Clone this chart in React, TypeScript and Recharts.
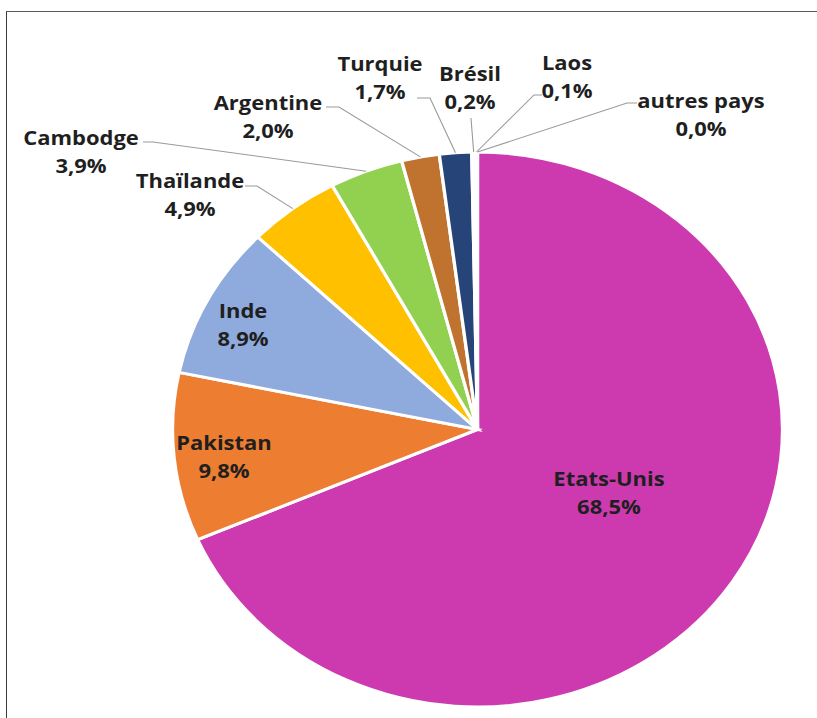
import { PieChart, Pie, Cell } from "recharts";

// the reference is horizontally stretched, so the whole chart is scaled in x
const SX = 305 / 277.5;
const RAD = Math.PI / 180;

const countries = [
  "Etats-Unis",
  "Pakistan",
  "Inde",
  "Thaïlande",
  "Cambodge",
  "Argentine",
  "Turquie",
  "Brésil",
  "Laos",
  "autres pays",
];
const shares = [68.5, 9.8, 8.9, 4.9, 3.9, 2.0, 1.7, 0.2, 0.1, 0.0];
const shareLabels = ["68,5%", "9,8%", "8,9%", "4,9%", "3,9%", "2,0%", "1,7%", "0,2%", "0,1%", "0,0%"];

const colors = [
  "#CD3AAF",
  "#ED7D31",
  "#8FAADC",
  "#FFC000",
  "#92D050",
  "#C0732F",
  "#264478",
  "#F7F7F7",
  "#F7F7F7",
  "#F7F7F7",
];

// label placement (reference pixels): text centre, first line y, optional leader start + elbow
const labelSpots: { x: number; y: number; line?: [number, number, number] }[] = [
  { x: 609, y: 478 },
  { x: 224, y: 442 },
  { x: 243, y: 310 },
  { x: 190, y: 180, line: [245, 186, 257] },
  { x: 81, y: 137, line: [143, 142, 153] },
  { x: 268, y: 102, line: [326, 107, 339] },
  { x: 380, y: 63, line: [417, 98, 430] },
  { x: 470, y: 73, line: [471, 118, 471] },
  { x: 567, y: 62, line: [542, 95, 534] },
  { x: 701, y: 100, line: [637, 103, 627] },
];

const data = countries.map((name, i) => ({ name, value: shares[i] }));

function renderLabel(props: any) {
  const { cx, cy, midAngle, outerRadius, index } = props;
  const spot = labelSpots[index];
  if (!spot) return null;
  const tx = spot.x / SX;
  let leader = null;
  if (spot.line) {
    const [lx, ly, ex] = spot.line;
    const px = cx + outerRadius * Math.cos(midAngle * RAD);
    const py = cy - outerRadius * Math.sin(midAngle * RAD);
    leader = (
      <polyline
        points={`${lx / SX},${ly} ${ex / SX},${ly} ${px},${py}`}
        fill="none"
        stroke="#9a9a9a"
        strokeWidth={1}
      />
    );
  }
  const textStyle = {
    textAnchor: "middle" as const,
    dominantBaseline: "central" as const,
    fill: "#1f1f1f",
    fontSize: 20,
    fontWeight: 700,
    fontFamily: "'Open Sans', sans-serif",
  };
  return (
    <g>
      {leader}
      <text x={tx} y={spot.y} {...textStyle}>
        {countries[index]}
      </text>
      <text x={tx} y={spot.y + 28} {...textStyle}>
        {shareLabels[index]}
      </text>
    </g>
  );
}

export default function App() {
  return (
    <div
      style={{
        position: "absolute",
        left: 0,
        top: 0,
        width: 817,
        height: 718,
        overflow: "hidden",
        background: "#fff",
      }}
    >
      <div
        style={{
          position: "absolute",
          left: 6,
          top: 11,
          width: 900,
          height: 800,
          borderTop: "1.5px solid #5a5a5a",
          borderLeft: "1.5px solid #3a3a3a",
        }}
      />
      <div
        style={{
          position: "absolute",
          left: 0,
          top: 0,
          width: 817 / SX,
          height: 718,
          transform: `scaleX(${SX})`,
          transformOrigin: "0 0",
        }}
      >
        <PieChart width={817 / SX} height={718} margin={{ top: 0, right: 0, bottom: 0, left: 0 }}>
          <Pie
            data={data}
            dataKey="value"
            nameKey="name"
            cx={477.5 / SX}
            cy={429.5}
            outerRadius={277.5}
            startAngle={90}
            endAngle={-270}
            stroke="#ffffff"
            strokeWidth={3}
            labelLine={false}
            label={renderLabel}
            isAnimationActive={false}
          >
            {data.map((d, i) => (
              <Cell key={d.name} fill={colors[i]} />
            ))}
          </Pie>
        </PieChart>
      </div>
    </div>
  );
}
